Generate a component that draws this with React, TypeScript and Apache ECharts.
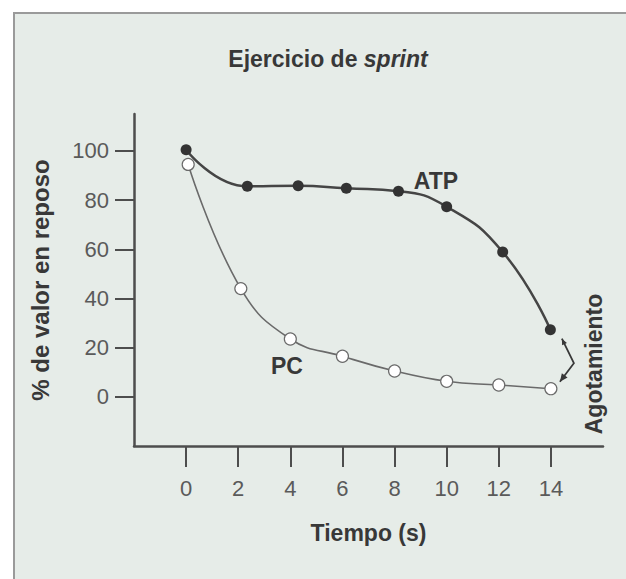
import React, { useEffect, useRef } from "react";
import * as echarts from "echarts";

const xTicks = [0, 2, 4, 6, 8, 10, 12, 14];
const yTicks = [0, 20, 40, 60, 80, 100];
const atpData: [number, number][] = [
  [0, 100.5], [2.35, 85.6], [4.3, 85.8], [6.15, 84.8], [8.15, 83.6], [10.0, 77.3], [12.15, 58.9], [13.98, 27.3],
];
const pcData: [number, number][] = [
  [0.08, 94.5], [2.1, 44], [4.0, 23.5], [6.0, 16.5], [8.0, 10.5], [10.0, 6.3], [12.0, 4.8], [14.0, 3.3],
];
const bracketData = [[14, 27.3, 3.3]];

const FONT = "'Liberation Sans', Arial, Helvetica, sans-serif";
const DARK = "#383838";
const GRAY = "#5a5a5a";
const AXIS = "#4d4d4d";

export default function App() {
  const ref = useRef<HTMLDivElement>(null);
  useEffect(() => {
    if (!ref.current) return;
    const chart = echarts.init(ref.current, null, { renderer: "svg" });
    const arrowHead = (tip: number[], from: number[], size: number) => {
      const dx = tip[0] - from[0];
      const dy = tip[1] - from[1];
      const len = Math.sqrt(dx * dx + dy * dy) || 1;
      const ux = dx / len, uy = dy / len;
      const bx = tip[0] - ux * size, by = tip[1] - uy * size;
      const w = size * 0.45;
      return {
        type: "polygon",
        shape: { points: [tip, [bx - uy * w, by + ux * w], [bx + uy * w, by - ux * w]] },
        style: { fill: DARK },
      };
    };
    chart.setOption({
      animation: false,
      backgroundColor: "transparent",
      grid: { left: 134, right: 23, top: 114, bottom: 133 },
      xAxis: {
        type: "value",
        min: -2,
        max: 16,
        interval: 2,
        name: "Tiempo (s)",
        nameLocation: "middle",
        nameGap: 75,
        nameTextStyle: { fontFamily: FONT, fontSize: 23, fontWeight: "bold", color: DARK },
        axisLine: { show: true, onZero: false, lineStyle: { color: AXIS, width: 2.5 } },
        axisTick: { show: true, length: 21, customValues: xTicks, lineStyle: { color: AXIS, width: 2 } },
        axisLabel: { customValues: xTicks, margin: 31, fontFamily: FONT, fontSize: 22, color: GRAY },
        splitLine: { show: false },
      },
      yAxis: {
        type: "value",
        min: -20,
        max: 115,
        name: "% de valor en reposo",
        nameLocation: "middle",
        nameGap: 82,
        nameTextStyle: { fontFamily: FONT, fontSize: 24, fontWeight: "bold", color: DARK },
        axisLine: { show: true, onZero: false, lineStyle: { color: AXIS, width: 2.5 } },
        axisTick: { show: true, length: 19, customValues: yTicks, lineStyle: { color: AXIS, width: 2 } },
        axisLabel: { customValues: yTicks, margin: 25, fontFamily: FONT, fontSize: 22, color: GRAY },
        splitLine: { show: false },
      },
      graphic: [
        {
          type: "text",
          x: 328,
          y: 59,
          style: {
            text: "{a|Ejercicio de }{b|sprint}",
            align: "center",
            verticalAlign: "middle",
            rich: {
              a: { fontFamily: FONT, fontSize: 23, fontWeight: "bold", fill: DARK },
              b: { fontFamily: FONT, fontSize: 23, fontWeight: "bold", fontStyle: "italic", fill: DARK },
            },
          },
        },
        {
          type: "text",
          x: 436,
          y: 181,
          style: { text: "ATP", align: "center", verticalAlign: "middle", font: `bold 23px ${FONT}`, fill: DARK },
        },
        {
          type: "text",
          x: 287,
          y: 366,
          style: { text: "PC", align: "center", verticalAlign: "middle", font: `bold 23px ${FONT}`, fill: DARK },
        },
        {
          type: "text",
          x: 594,
          y: 364,
          rotation: Math.PI / 2,
          style: { text: "Agotamiento", align: "center", verticalAlign: "middle", font: `bold 23px ${FONT}`, fill: DARK },
        },
      ],
      series: [
        {
          name: "ATP",
          type: "line",
          data: atpData,
          smooth: 0.5,
          symbol: "circle",
          symbolSize: 11,
          lineStyle: { color: "#454545", width: 2.5 },
          itemStyle: { color: "#333333", borderWidth: 0 },
          z: 3,
        },
        {
          name: "PC",
          type: "line",
          data: pcData,
          smooth: 0.45,
          symbol: "circle",
          symbolSize: 12,
          lineStyle: { color: "#6a6a6a", width: 1.6 },
          itemStyle: { color: "#ffffff", borderColor: "#6a6a6a", borderWidth: 1.2 },
          z: 3,
        },
        {
          type: "custom",
          data: bracketData,
          silent: true,
          renderItem: (_params: any, api: any) => {
            const top = api.coord([api.value(0), api.value(1)]);
            const bot = api.coord([api.value(0), api.value(2)]);
            const p1 = [top[0] + 11, top[1] + 9];
            const p2 = [top[0] + 23, (top[1] + bot[1]) / 2 + 4];
            const p3 = [bot[0] + 9, bot[1] - 7];
            return {
              type: "group",
              children: [
                {
                  type: "polyline",
                  shape: { points: [p1, p2, p3] },
                  style: { stroke: DARK, lineWidth: 1.8, fill: "none" },
                },
                arrowHead(p1, p2, 6),
                arrowHead(p3, p2, 8),
              ],
            };
          },
        },
      ],
    });
    return () => chart.dispose();
  }, []);
  return (
    <div style={{ position: "fixed", left: 0, top: 0, width: 626, height: 579, background: "#ffffff", overflow: "hidden" }}>
      <div
        style={{
          position: "absolute",
          left: 13,
          top: 12,
          width: 640,
          height: 600,
          background: "#e6ece8",
          borderLeft: "2px solid #9a9a9a",
          borderTop: "2px solid #9a9a9a",
        }}
      />
      <div ref={ref} style={{ position: "absolute", left: 0, top: 0, width: 626, height: 579 }} />
    </div>
  );
}
